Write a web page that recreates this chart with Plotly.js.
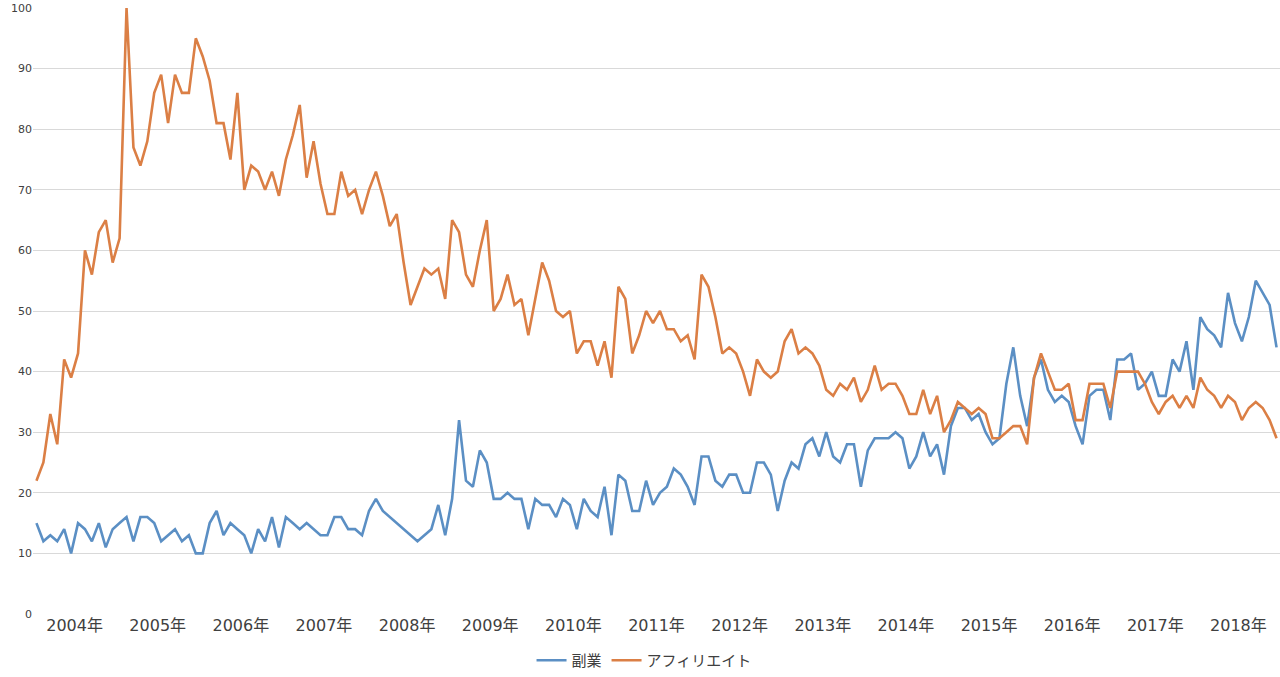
<!DOCTYPE html>
<html>
<head>
<meta charset="utf-8">
<script src="https://cdn.plot.ly/plotly-3.0.1.min.js"></script>
<style>html,body{margin:0;padding:0;background:#fff;}#chart{width:1280px;height:677px;}</style>
</head>
<body>
<div id="chart"></div>
<script>
// Monthly index values, 2004-01 .. 2018-12
const years = [2004,2005,2006,2007,2008,2009,2010,2011,2012,2013,2014,2015,2016,2017,2018];
const yearLabels = years.map(y => y + '年');

const fukugyo = [
  15,12,13,12,14,10,15,14,12,15,11,14,15,16,12,16,16,15,12,13,14,12,13,10,10,15,17,13,15,14,
  13,10,14,12,16,11,16,15,14,15,14,13,13,16,16,14,14,13,17,19,17,16,15,14,13,12,13,14,18,
  13,19,32,22,21,27,25,19,19,20,19,19,14,19,18,18,16,19,18,14,19,17,16,21,13,23,22,17,17,
  22,18,20,21,24,23,21,18,26,26,22,21,23,23,20,20,25,25,23,17,22,25,24,28,29,26,30,26,25,
  28,28,21,27,29,29,29,30,29,24,26,30,26,28,23,31,34,34,32,33,30,28,29,38,44,36,31,39,42,
  37,35,36,35,31,28,36,37,37,32,42,42,43,37,38,40,36,36,42,40,45,37,49,47,46,44,53,48,45,49,55,53,51,44
];

const affiliate = [
  22,25,33,28,42,39,43,60,56,63,65,58,62,100,77,74,78,86,89,81,89,86,86,95,92,88,81,81,75,86,
  70,74,73,70,73,69,75,79,84,72,78,71,66,66,73,69,70,66,70,73,69,64,66,58,51,54,57,56,57,
  52,65,63,56,54,60,65,50,52,56,51,52,46,52,58,55,50,49,50,43,45,45,41,45,39,54,52,43,46,
  50,48,50,47,47,45,46,42,56,54,49,43,44,43,40,36,42,40,39,40,45,47,43,44,43,41,37,36,38,
  37,39,35,37,41,37,38,38,36,33,33,37,33,36,30,32,35,34,33,34,33,29,29,30,31,31,28,39,43,
  40,37,37,38,32,32,38,38,38,34,40,40,40,40,38,35,33,35,36,34,36,34,39,37,36,34,36,35,32,34,35,34,32,29
];

const seriesNames = ['副業', 'アフィリエイト'];
const monthIdx = fukugyo.map((_, i) => i);
const tickPos = years.map((_, k) => k * 12 + 5.5);

const traces = [
  {x: monthIdx, y: fukugyo, name: seriesNames[0], type: 'scatter', mode: 'lines',
   line: {color: '#5b8fc4', width: 2.6}},
  {x: monthIdx, y: affiliate, name: seriesNames[1], type: 'scatter', mode: 'lines',
   line: {color: '#db7f45', width: 2.6}}
];

const layout = {
  width: 1280, height: 677,
  margin: {l: 33, r: 0, t: 8, b: 61},
  paper_bgcolor: '#fff', plot_bgcolor: '#fff',
  font: {family: 'DejaVu Sans, Noto Sans CJK JP, sans-serif', color: '#595959'},
  xaxis: {
    range: [-0.5, fukugyo.length - 0.5],
    tickmode: 'array', tickvals: tickPos, ticktext: yearLabels,
    showgrid: false, zeroline: false, showline: false, ticks: '',
    tickfont: {size: 16, color: '#404040', family: 'DejaVu Sans, Noto Sans CJK JP, sans-serif'}
  },
  yaxis: {
    range: [0, 100], dtick: 10, tick0: 0,
    showgrid: true, gridcolor: '#d9d9d9', gridwidth: 1,
    zeroline: false, showline: false, ticks: '',
    tickfont: {size: 11, color: '#404040'}
  },
  showlegend: true,
  legend: {
    orientation: 'h', x: 0.49, xanchor: 'center', y: -0.077, yanchor: 'middle',
    font: {size: 15, color: '#404040', family: 'Noto Sans CJK JP, sans-serif'},
    itemwidth: 30
  }
};

Plotly.newPlot('chart', traces, layout, {displayModeBar: false, staticPlot: true});
</script>
</body>
</html>
